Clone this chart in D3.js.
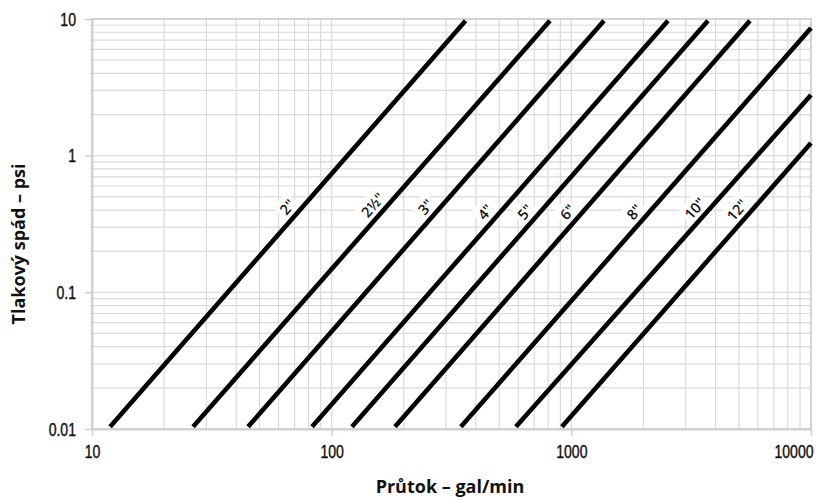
<!DOCTYPE html>
<html><head><meta charset="utf-8">
<script src="https://cdn.jsdelivr.net/npm/d3@7"></script>
<style>body{margin:0;background:#fff}</style></head>
<body><svg id="c" width="820" height="500"></svg>
<script>
// Pipe sizes and their straight lines on the log-log chart (start/end points)
const sizes     = ['2"', '2½"', '3"', '4"', '5"', '6"', '8"', '10"', '12"'];
const startFlow = [11.9, 26.4, 44.8, 82.8, 121.5, 183.7, 346, 587, 913];
const startPsi  = [0.0104, 0.0104, 0.0104, 0.0104, 0.0104, 0.0104, 0.0104, 0.0104, 0.0104];
const endFlow   = [362, 814, 1368, 2530, 3715, 5560, 10000, 10000, 10000];
const endPsi    = [9.7, 9.7, 9.7, 9.7, 9.7, 9.7, 8.6, 2.78, 1.24];
const labelPsi  = [0.42, 0.435, 0.42, 0.387, 0.387, 0.387, 0.387, 0.41, 0.40];
const xTicks = [10, 100, 1000, 10000];
const yTicks = [0.01, 0.1, 1, 10];
const xTitle = "Průtok – gal/min";
const yTitle = "Tlakový spád – psi";

const svg = d3.select("#c");
const m = {l: 92, r: 9, t: 19, b: 71};
const W = 820, H = 500;
const x = d3.scaleLog().domain([10, 10000]).range([m.l, W - m.r]);
const y = d3.scaleLog().domain([0.01, 10]).range([H - m.b, m.t]);

const tickFont = '"Liberation Sans",Arial,sans-serif';
const titleFont = '"Open Sans","Noto Sans",sans-serif';
const sx = 0.74; // horizontal condensing of tick labels

// grid
const g = svg.append("g");
g.selectAll("line.v").data(x.ticks()).join("line")
  .attr("x1", d => x(d)).attr("x2", d => x(d))
  .attr("y1", m.t).attr("y2", H - m.b)
  .attr("stroke", "#dadada").attr("stroke-width", 1.2);
g.selectAll("line.h").data(y.ticks()).join("line")
  .attr("y1", d => y(d)).attr("y2", d => y(d))
  .attr("x1", m.l - 2).attr("x2", W - m.r)
  .attr("stroke", "#dadada").attr("stroke-width", 1.2);

// border
svg.append("rect").attr("x", m.l).attr("y", m.t)
  .attr("width", W - m.r - m.l).attr("height", H - m.b - m.t)
  .attr("fill", "none").attr("stroke", "#d4d4d4").attr("stroke-width", 2);

// axes
const ax = svg.append("g").attr("transform", `translate(0,${H - m.b})`)
  .call(d3.axisBottom(x).tickValues(xTicks).tickFormat(d => String(d)).tickSize(7).tickSizeOuter(0).tickPadding(9));
const ay = svg.append("g").attr("transform", `translate(${m.l},0)`)
  .call(d3.axisLeft(y).tickValues(yTicks).tickFormat(d => String(d)).tickSize(7).tickSizeOuter(0).tickPadding(5));
[ax, ay].forEach(a => {
  a.select(".domain").attr("stroke", "#d0d0d0").attr("stroke-width", 2);
  a.selectAll(".tick line").attr("stroke", "#d0d0d0").attr("stroke-width", 1.5);
  a.selectAll(".tick text").attr("font-family", tickFont).attr("font-size", 19).attr("fill", "#111")
    .attr("stroke", "#111").attr("stroke-width", 0.45)
    .attr("transform", `scale(${sx},1)`);
});
ay.selectAll(".tick text").attr("x", -16 / sx);
ax.selectAll(".tick text").filter(d => d === 10000).attr("text-anchor", "end").attr("x", 2 / sx);

// pipe lines data
const lines = sizes.map((s, i) => ({
  s, x0: x(startFlow[i]), y0: y(startPsi[i]), x1: x(endFlow[i]), y1: y(endPsi[i]), lp: labelPsi[i]
}));

// labels (beneath the lines)
const lab = svg.append("g").selectAll("g").data(lines).join("g")
  .attr("transform", d => {
    const ly = y(d.lp);
    const t = (ly - d.y0) / (d.y1 - d.y0);
    const lx = d.x0 + t * (d.x1 - d.x0) - 15;
    const ang = Math.atan2(d.y1 - d.y0, d.x1 - d.x0) * 180 / Math.PI;
    return `translate(${lx},${ly}) rotate(${ang})`;
  });
lab.append("text").text(d => d.s)
  .attr("text-anchor", "middle").attr("dy", "0.36em")
  .attr("font-family", titleFont).attr("font-weight", 600).attr("font-size", 14.5)
  .attr("fill", "#111");
lab.each(function() {
  const gg = d3.select(this), bb = gg.select("text").node().getBBox();
  gg.insert("rect", "text").attr("x", bb.x - 3).attr("y", bb.y - 1)
    .attr("width", bb.width + 6).attr("height", bb.height + 2).attr("fill", "#fff");
});

// pipe lines
svg.append("g").selectAll("line").data(lines).join("line")
  .attr("x1", d => d.x0).attr("y1", d => d.y0).attr("x2", d => d.x1).attr("y2", d => d.y1)
  .attr("stroke", "#000").attr("stroke-width", 4.6);

// titles
svg.append("text").attr("x", 450).attr("y", 493)
  .attr("text-anchor", "middle").attr("font-family", titleFont).attr("font-weight", 700)
  .attr("font-size", 18).attr("fill", "#111").text(xTitle);
svg.append("text").attr("transform", `translate(25,244) rotate(-90)`)
  .attr("text-anchor", "middle").attr("font-family", titleFont).attr("font-weight", 700)
  .attr("font-size", 18).attr("fill", "#111").text(yTitle);
</script></body></html>
